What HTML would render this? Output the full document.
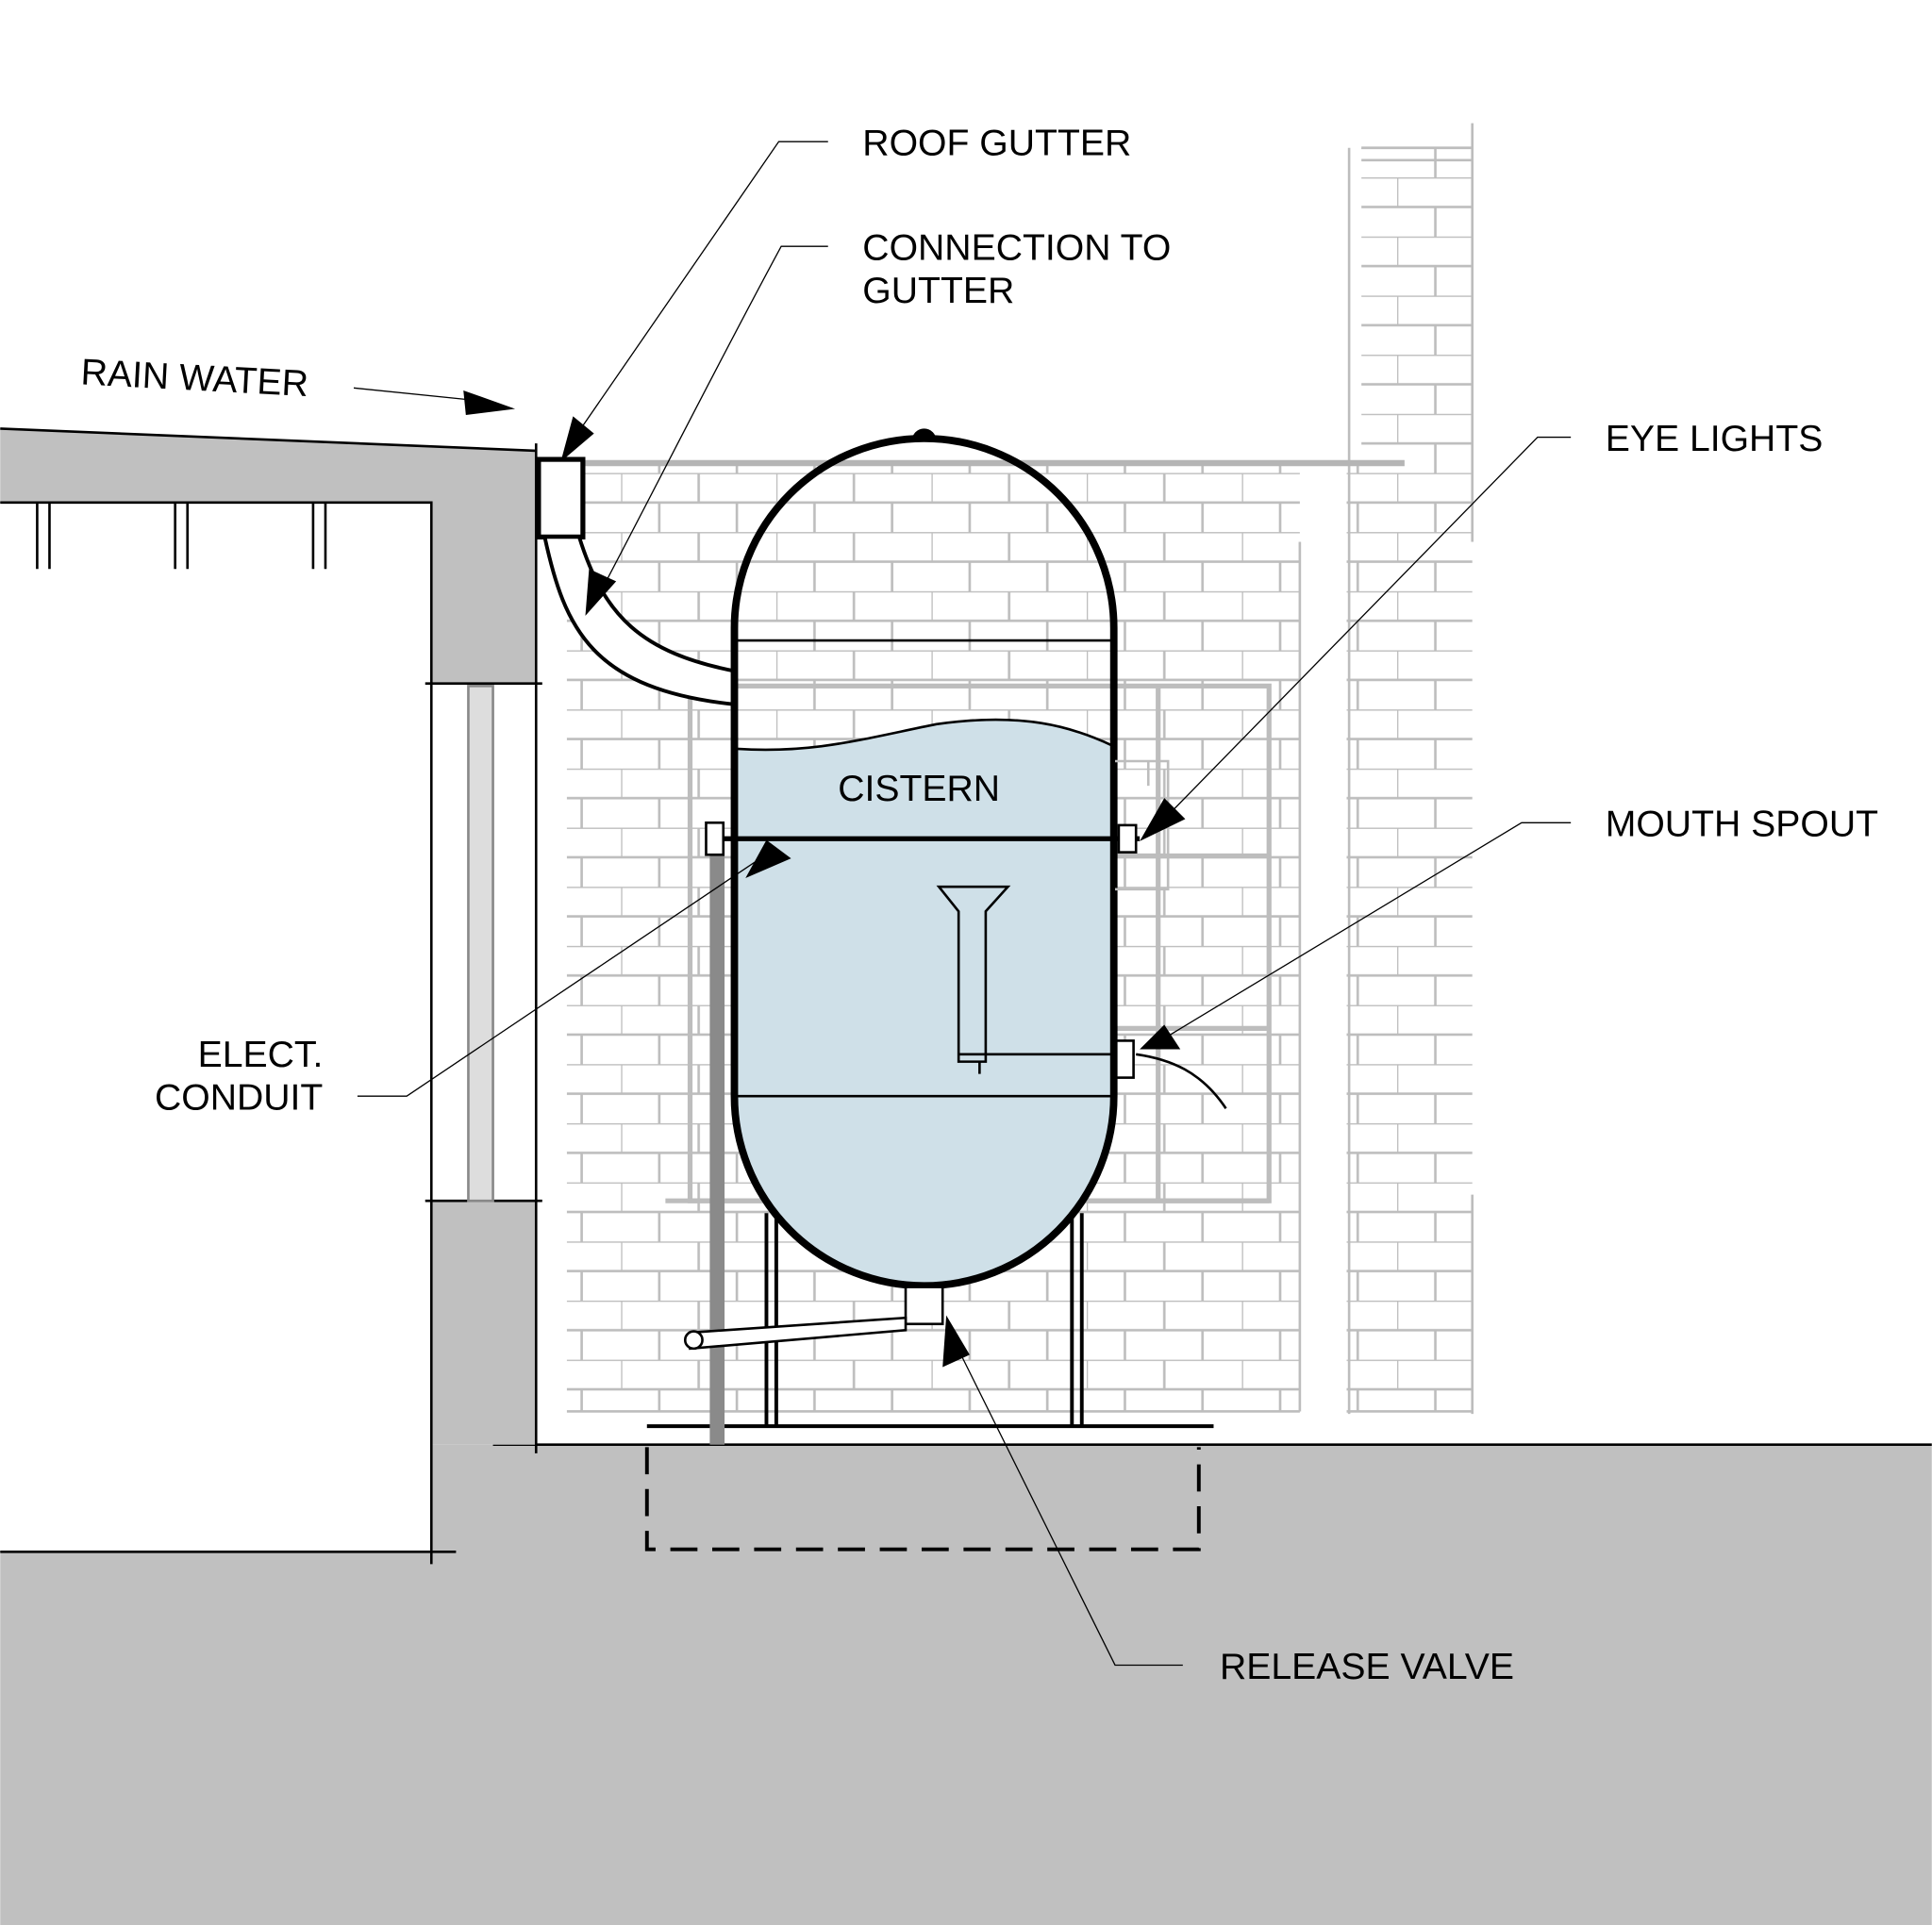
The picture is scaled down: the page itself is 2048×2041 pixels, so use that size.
<!DOCTYPE html>
<html><head><style>html,body{margin:0;padding:0;background:#fff}svg{display:block}</style></head><body>
<svg width="2048" height="2041" viewBox="0 0 1568 1563" xmlns="http://www.w3.org/2000/svg" font-family="Liberation Sans, sans-serif">
<defs>
<pattern id="brick" x="0" y="0" width="126" height="48" patternUnits="userSpaceOnUse">
<rect width="126" height="48" fill="#fff"/>
<path d="M0 0H126M0 24H126M0 0V24M63 0V24M31 24V48M94 24V48" stroke="#bdbdbd" stroke-width="2" fill="none"/>
</pattern>
</defs>
<rect width="1568" height="1563" fill="#fff"/>
<rect x="460" y="378" width="595" height="768" fill="url(#brick)"/>
<rect x="1093" y="378" width="102" height="768" fill="url(#brick)"/>
<rect x="1105" y="120" width="90" height="318" fill="url(#brick)"/>
<path d="M1095 120V1148M1195 100V440M1195 970V1148M1055 440V1146M460 1146H1055M1093 1146H1195M1105 120H1195M1105 130H1195" stroke="#bdbdbd" stroke-width="2"/>
<line x1="440" y1="376" x2="1140" y2="376" stroke="#b5b5b5" stroke-width="5"/>
<g stroke="#bdbdbd" stroke-width="4" fill="none">
<rect x="560" y="557" width="470" height="418"/>
<line x1="940" y1="557" x2="940" y2="975"/>
<line x1="905" y1="695" x2="1030" y2="695"/>
<line x1="905" y1="835" x2="1030" y2="835"/>
<line x1="540" y1="975" x2="1030" y2="975"/>
</g>
<path d="M350 1173H1568V1563H0V1260H350Z" fill="#c0c0c0"/>
<path d="M400 1173H1568M0 1260H370" stroke="#000" stroke-width="2"/>
<path d="M0 348L435 366V555H350V408H0Z" fill="#c0c0c0"/>
<path d="M350 975H435V1173H350Z" fill="#c0c0c0"/>
<g stroke="#000" stroke-width="2" fill="none">
<path d="M0 348L435 366"/><path d="M0 408H350V1270"/><path d="M435 360V1180"/>
<path d="M345 555H440M345 975H440"/>
<path d="M30 408V462M40 408V462M142 408V462M152 408V462M254 408V462M264 408V462"/>
</g>
<rect x="380" y="557" width="20" height="418" fill="#ddd" stroke="#888" stroke-width="2"/>
<rect x="437" y="373" width="36" height="63" fill="#fff" stroke="#000" stroke-width="4"/>
<path d="M442 436 C458 510 480 560 597 572 L597 545 C520 530 490 500 470 436Z" fill="#fff" stroke="#000" stroke-width="3"/>
<g stroke="#000" stroke-width="3" fill="none">
<path d="M622 985V1158M630 985V1158M870 985V1158M878 985V1158M525 1158H985"/>
</g>
<path d="M525 1175V1258H973V1175" stroke="#000" stroke-width="3" stroke-dasharray="22 12" fill="none"/>
<rect x="576" y="690" width="12" height="483" fill="#8a8a8a"/>
<path d="M740 358a10 10 0 0 1 20 0z" fill="#000"/>
<path d="M598 608 C660 612 700 600 760 588 C830 578 870 590 902 605 V890 A152 152 0 0 1 598 890Z" fill="#cfe0e8"/>
<rect x="596" y="356" width="308" height="688" rx="154" fill="none" stroke="#000" stroke-width="6"/>
<path d="M598 520H902M598 890H902" stroke="#000" stroke-width="2"/>
<path d="M598 608 C660 612 700 600 760 588 C830 578 870 590 902 605" stroke="#000" stroke-width="2" fill="none"/>
<line x1="575" y1="681" x2="925" y2="681" stroke="#000" stroke-width="4"/>
<rect x="573" y="668" width="14" height="26" fill="#fff" stroke="#000" stroke-width="2"/>
<rect x="908" y="670" width="14" height="22" fill="#fff" stroke="#000" stroke-width="2"/>
<path d="M905 618H948V722H905M932 618V638" stroke="#bdbdbd" stroke-width="2" fill="none"/>
<path d="M762 720H818L800 740V862H778V740Z" fill="none" stroke="#000" stroke-width="2"/>
<path d="M778 856H910M795 862V872" stroke="#000" stroke-width="2"/>
<rect x="906" y="845" width="14" height="30" fill="#fff" stroke="#000" stroke-width="2"/>
<path d="M922 856 C950 860 975 870 995 900" stroke="#000" stroke-width="2" fill="none"/>
<rect x="735" y="1045" width="30" height="30" fill="#fff" stroke="#000" stroke-width="2"/>
<path d="M560 1082L735 1070V1080L560 1095Z" fill="#fff" stroke="#000" stroke-width="2"/>
<circle cx="563" cy="1088" r="7" fill="#fff" stroke="#000" stroke-width="2"/>
<g stroke="#000" stroke-width="1" fill="none">
<path d="M672 115H632L470 350"/>
<path d="M672 200H634 C580 300 530 400 485 485"/>
<path d="M287 315L385 325"/>
<path d="M1275 355H1248L945 665"/>
<path d="M1275 668H1235L950 840"/>
<path d="M290 890H330L620 695"/>
<path d="M960 1352H905L775 1090"/>
</g>
<g fill="#000">
<path d="M418 332L376 317L378 337Z"/>
<path d="M455 375L465 338L482 352Z"/>
<path d="M475 500L478 462L500 472Z"/>
<path d="M925 683L945 648L962 665Z"/>
<path d="M925 852L945 832L958 852Z"/>
<path d="M605 713L622 682L642 697Z"/>
<path d="M768 1068L765 1110L787 1100Z"/>
</g>
<g font-size="30" fill="#000">
<text x="700" y="126">ROOF GUTTER</text>
<text x="700" y="211">CONNECTION TO</text>
<text x="700" y="246">GUTTER</text>
<text x="65" y="312" transform="rotate(3 65 312)">RAIN WATER</text>
<text x="1303" y="366">EYE LIGHTS</text>
<text x="1303" y="679">MOUTH SPOUT</text>
<text x="680" y="650">CISTERN</text>
<text x="262" y="866" text-anchor="end">ELECT.</text>
<text x="262" y="901" text-anchor="end">CONDUIT</text>
<text x="990" y="1363">RELEASE VALVE</text>
</g>
</svg>
</body></html>
